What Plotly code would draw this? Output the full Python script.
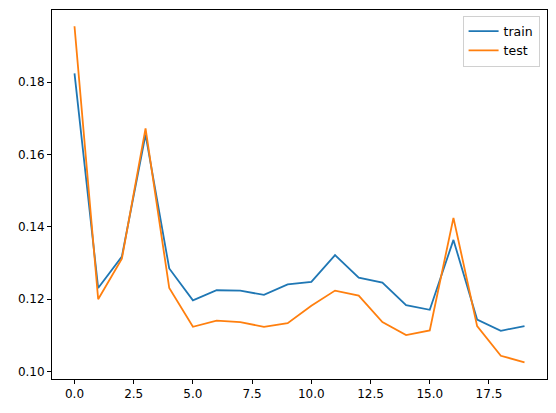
import plotly.graph_objects as go

epochs = list(range(20))
train = [0.1824, 0.1231, 0.1318, 0.1655, 0.1285, 0.1197, 0.1225, 0.1224, 0.1212, 0.1241,
         0.1248, 0.1322, 0.1260, 0.1246, 0.1184, 0.1171, 0.1364, 0.1144, 0.1113, 0.1126]
test = [0.1954, 0.1200, 0.1312, 0.1672, 0.1231, 0.1124, 0.1141, 0.1137, 0.1124, 0.1134,
        0.1182, 0.1224, 0.1210, 0.1137, 0.1101, 0.1114, 0.1425, 0.1126, 0.1044, 0.1026]
x_ticks = [0, 2.5, 5, 7.5, 10, 12.5, 15, 17.5]
x_labels = ["0.0", "2.5", "5.0", "7.5", "10.0", "12.5", "15.0", "17.5"]
y_ticks = [0.10, 0.12, 0.14, 0.16, 0.18]
y_labels = ["0.10", "0.12", "0.14", "0.16", "0.18"]

fig = go.Figure()
fig.add_trace(go.Scatter(x=epochs, y=train, mode="lines", name="train",
                         line=dict(color="#1f77b4", width=1.8)))
fig.add_trace(go.Scatter(x=epochs, y=test, mode="lines", name="test",
                         line=dict(color="#ff7f0e", width=1.8)))

axis_common = dict(showline=True, linecolor="black", linewidth=1, mirror=True,
                   ticks="outside", ticklen=4, tickcolor="black", showgrid=False,
                   zeroline=False, automargin=False,
                   tickfont=dict(family="DejaVu Sans", size=12, color="black"))
fig.update_xaxes(range=[-0.95, 19.95], tickvals=x_ticks, ticktext=x_labels, **axis_common)
fig.update_yaxes(range=[0.09798, 0.1999], tickvals=y_ticks, ticktext=y_labels, **axis_common)

fig.update_layout(
    width=556, height=413,
    margin=dict(l=52, r=9, t=10, b=34, autoexpand=False),
    plot_bgcolor="white", paper_bgcolor="white",
    font=dict(family="DejaVu Sans", size=12, color="black"),
    legend=dict(x=0.985, y=0.985, xanchor="right", yanchor="top",
                bgcolor="rgba(255,255,255,0.8)", bordercolor="#d0d0d0", borderwidth=1,
                font=dict(family="DejaVu Sans", size=12.5), tracegroupgap=0,
                itemwidth=30),
    showlegend=True,
)

fig.write_html("out.html", config={"displayModeBar": False},
               post_script="document.body.style.margin='0';document.body.style.overflow='hidden';")
